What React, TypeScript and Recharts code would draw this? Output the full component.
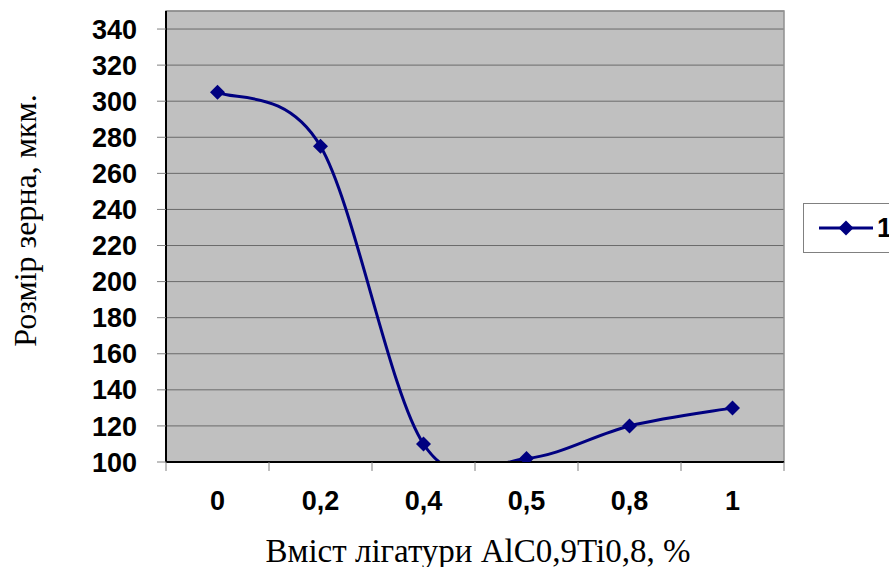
import React from "react";
import {
  CartesianGrid,
  Legend,
  Line,
  LineChart,
  ReferenceArea,
  XAxis,
  YAxis,
} from "recharts";

const categories = ["0", "0,2", "0,4", "0,5", "0,8", "1"];
const grainSize = [305, 275, 110, 102, 120, 130];
const yTicks = [100, 120, 140, 160, 180, 200, 220, 240, 260, 280, 300, 320, 340];
const seriesName = "1";

const NAVY = "#000080";
const SANS = "Liberation Sans, Arial, sans-serif";
const SERIF = "Liberation Serif, Times New Roman, serif";

const data = categories.map((name, i) => ({ name, value: grainSize[i] }));

// Excel-like smoothing (Catmull-Rom through the points)
function smoothCurve(context: any) {
  let pts: number[][] = [];
  return {
    areaStart() {},
    areaEnd() {},
    lineStart() {
      pts = [];
    },
    point(x: number, y: number) {
      pts.push([+x, +y]);
    },
    lineEnd() {
      if (!pts.length) return;
      context.moveTo(pts[0][0], pts[0][1]);
      for (let i = 0; i < pts.length - 1; i++) {
        const p0 = pts[i - 1] || pts[i];
        const p1 = pts[i];
        const p2 = pts[i + 1];
        const p3 = pts[i + 2] || pts[i + 1];
        context.bezierCurveTo(
          p1[0] + (p2[0] - p0[0]) / 6,
          p1[1] + (p2[1] - p0[1]) / 6,
          p2[0] - (p3[0] - p1[0]) / 6,
          p2[1] - (p3[1] - p1[1]) / 6,
          p2[0],
          p2[1]
        );
      }
    },
  };
}

function Diamond({ cx, cy }: any) {
  if (cx == null || cy == null) return null;
  const r = 7.5;
  return (
    <polygon
      points={`${cx},${cy - r} ${cx + r},${cy} ${cx},${cy + r} ${cx - r},${cy}`}
      fill={NAVY}
    />
  );
}

function XTick(props: any) {
  const { x, y, payload, index, width } = props;
  const half = payload.offset || width / categories.length / 2;
  const last = index === categories.length - 1;
  return (
    <g>
      <line x1={x - half} x2={x - half} y1={y} y2={y + 9} stroke="#808080" />
      {last && <line x1={x + half} x2={x + half} y1={y} y2={y + 9} stroke="#808080" />}
      <text
        x={x}
        y={y + 48}
        textAnchor="middle"
        style={{ fontFamily: SANS, fontWeight: "bold", fontSize: 27 }}
        fill="#000"
      >
        {payload.value}
      </text>
    </g>
  );
}

function LegendBox({ payload }: any) {
  const item = payload && payload[0];
  return (
    <div
      style={{
        width: 100,
        height: 50,
        boxSizing: "border-box",
        border: "1px solid #808080",
        background: "#fff",
        display: "flex",
        alignItems: "center",
        paddingLeft: 15,
      }}
    >
      <svg width={56} height={16}>
        <line x1={0} x2={54} y1={8} y2={8} stroke={NAVY} strokeWidth={3} />
        <polygon points="27,0.5 34.5,8 27,15.5 19.5,8" fill={NAVY} />
      </svg>
      <span
        style={{
          fontFamily: SANS,
          fontWeight: "bold",
          fontSize: 27,
          marginLeft: 2,
          lineHeight: 1,
        }}
      >
        {item ? item.value : seriesName}
      </span>
    </div>
  );
}

export default function App() {
  return (
    <div
      style={{
        position: "absolute",
        left: 0,
        top: 0,
        width: 889,
        height: 567,
        overflow: "hidden",
        background: "#fff",
      }}
    >
      <LineChart
        width={889}
        height={567}
        data={data}
        margin={{ top: 11, right: 105, bottom: 45, left: 0 }}
      >
        <CartesianGrid
          vertical={false}
          stroke="#6a6a6a"
          fill="#c0c0c0"
          fillOpacity={1}
        />
        <ReferenceArea y1={100} y2={350} fill="none" stroke="#909090" strokeWidth={1.5} />
        <XAxis
          dataKey="name"
          scale="band"
          height={60}
          tickSize={0}
          tickMargin={0}
          tickLine={false}
          axisLine={{ stroke: "#000", strokeWidth: 2 }}
          tick={<XTick />}
          interval={0}
          label={({ viewBox }: any) => (
            <text
              x={viewBox.x + viewBox.width / 2 + 3}
              y={viewBox.y + 100}
              textAnchor="middle"
              style={{ fontFamily: SERIF, fontSize: 33 }}
              fill="#000"
            >
              Вміст лігатури AlC0,9Ti0,8, %
            </text>
          )}
        />
        <YAxis
          type="number"
          domain={[100, 350]}
          ticks={yTicks}
          allowDataOverflow
          width={166}
          tickSize={9}
          tickMargin={20}
          tickLine={{ stroke: "#808080" }}
          axisLine={{ stroke: "#000", strokeWidth: 2 }}
          tick={{ fontFamily: SANS, fontWeight: "bold", fontSize: 27, fill: "#000" }}
          interval={0}
          label={({ viewBox }: any) => {
            const cx = viewBox.x + 25;
            const cy = viewBox.y + viewBox.height / 2 - 16;
            return (
              <text
                x={cx}
                y={cy}
                transform={`rotate(-90 ${cx} ${cy})`}
                textAnchor="middle"
                dominantBaseline="central"
                style={{ fontFamily: SERIF, fontSize: 32 }}
                fill="#000"
              >
                Розмір зерна, мкм.
              </text>
            );
          }}
        />
        <Legend
          layout="vertical"
          align="center"
          verticalAlign="middle"
          wrapperStyle={{ left: 803, top: 203, right: "auto", bottom: "auto", width: 100 }}
          content={<LegendBox />}
        />
        <Line
          dataKey="value"
          name={seriesName}
          type={smoothCurve as any}
          stroke={NAVY}
          strokeWidth={3}
          dot={<Diamond />}
          activeDot={false}
          isAnimationActive={false}
        />
      </LineChart>
    </div>
  );
}
